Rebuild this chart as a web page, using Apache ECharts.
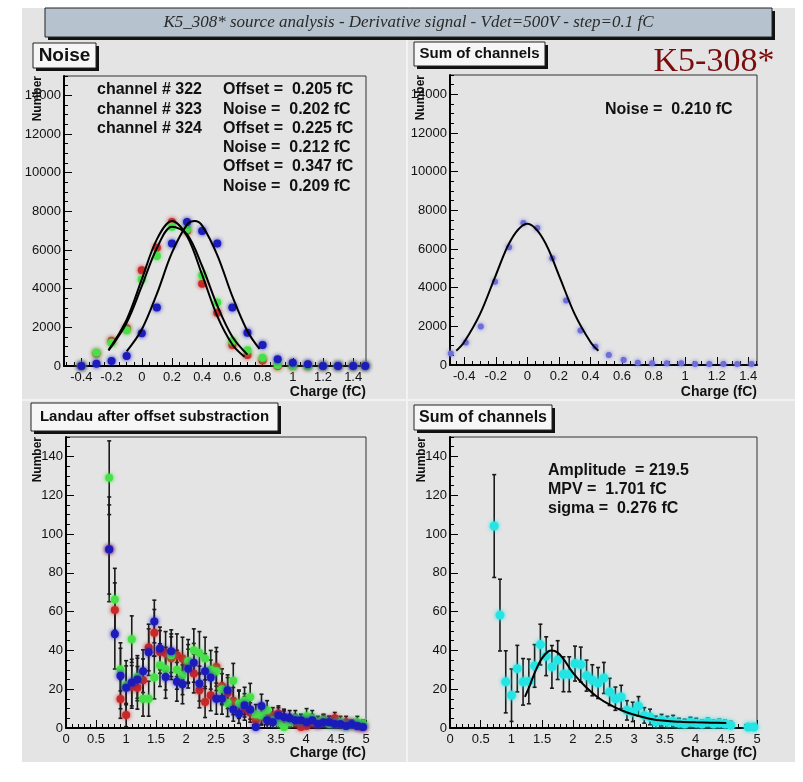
<!DOCTYPE html>
<html>
<head>
<meta charset="utf-8">
<title>K5_308* source analysis</title>
<script src="https://cdn.jsdelivr.net/npm/echarts@6/dist/echarts.min.js"></script>
<style>
  html, body { margin: 0; padding: 0; background: #ffffff; }
  #chart { width: 803px; height: 782px; }
</style>
</head>
<body>
<div id="chart"></div>
<script>
// ---------- Noise panel (three channels) ----------
const noiseX = [-0.4, -0.3, -0.2, -0.1, 0, 0.1, 0.2, 0.3, 0.4, 0.5, 0.6, 0.7, 0.8, 0.9, 1.0, 1.1, 1.2, 1.3, 1.4, 1.48];
const noiseCh322 = [0, 650, 1300, 1950, 4950, 6120, 7450, 7000, 4260, 2760, 1090, 570, 290, 0, 0, 0, 0, 0, 0, 0];
const noiseCh323 = [0, 690, 1200, 1845, 4480, 5690, 7200, 7070, 4690, 3280, 1290, 810, 430, 50, 0, 0, 0, 0, 0, 0];
const noiseCh324 = [0, 120, 260, 520, 1690, 3020, 6330, 7450, 6980, 6330, 3020, 1720, 1090, 345, 170, 86, 0, 0, 0, 0];

// Gaussian fit curves of the three channels, sampled along x
const fitCh322 = [[-0.22, 820], [-0.1, 2400], [0, 4480], [0.1, 6550], [0.2, 7500], [0.3, 6710], [0.4, 4710], [0.5, 2580], [0.6, 1110], [0.68, 474]];
const fitCh323 = [[-0.22, 800], [-0.1, 2240], [0, 4130], [0.1, 6090], [0.2, 7200], [0.3, 6810], [0.4, 5160], [0.5, 3130], [0.6, 1515], [0.7, 590]];
const fitCh324 = [[-0.1, 760], [0, 1890], [0.1, 3730], [0.2, 5860], [0.3, 7310], [0.35, 7500], [0.4, 7260], [0.5, 5740], [0.6, 3600], [0.7, 1800], [0.78, 880]];

// ---------- Noise, sum of channels ----------
const sumNoiseX = [-0.485, -0.39, -0.295, -0.205, -0.116, -0.025, 0.063, 0.158, 0.246, 0.337, 0.431, 0.516, 0.61, 0.70, 0.79, 0.884, 0.975, 1.063, 1.153, 1.242, 1.33, 1.42];
const sumNoise = [600, 1160, 1990, 4310, 6090, 7340, 7080, 5520, 3330, 1780, 950, 520, 260, 120, 90, 86, 86, 52, 50, 50, 50, 50];
const sumNoiseFit = [[-0.45, 735], [-0.4, 1190], [-0.3, 2630], [-0.2, 4640], [-0.1, 6520], [0, 7300], [0.1, 6520], [0.2, 4640], [0.3, 2630], [0.4, 1190], [0.45, 735]];

// ---------- Landau spectra (charge bins, fC) ----------
const landauX = [0.72, 0.814, 0.908, 1.002, 1.096, 1.19, 1.284, 1.378, 1.472, 1.566, 1.66, 1.754, 1.848, 1.942, 2.036, 2.13, 2.224, 2.318, 2.412, 2.506, 2.6, 2.694, 2.788, 2.882, 2.976, 3.07, 3.164, 3.258, 3.352, 3.446, 3.54, 3.634, 3.728, 3.822, 3.916, 4.01, 4.104, 4.198, 4.292, 4.386, 4.48, 4.574, 4.668, 4.762, 4.856, 4.95];
const landau322 = [92, 60.8, 15, 6.7, 21.2, 20.7, 24.6, 41.5, 49.1, 39.2, 38.7, 36, 37.5, 35.8, 33, 28.1, 19.4, 13.4, 16.9, 31.5, 21.5, 18, 13.9, 12, 10, 8, 4, 6, 5.7, 6.5, 7.4, 4.8, 4, 3, 0.5, 1, 3, 2, 4, 3, 5, 2, 3, 2, 1, 0.5];
const landau322Err = [23, 14, 10, 6, 11, 11, 11, 12, 12, 11, 11, 11, 11, 11, 10, 10, 9, 8, 8, 10, 9, 8, 7, 7, 6, 5, 4, 4, 4, 4, 4, 4, 3, 3, 1, 2, 3, 2, 3, 3, 3, 2, 3, 2, 2, 1];
const landau323 = [129, 66.3, 30.1, 22, 45.8, 26.3, 15.1, 15.1, 26, 32.4, 30.6, 37.5, 30, 27.2, 34.6, 40.1, 38.7, 35.8, 30, 29.3, 20, 12.9, 24.3, 12.6, 14, 16, 7.1, 6.5, 9.1, 4, 3, 0.5, 3, 5, 4, 6, 5, 3, 4, 2, 2, 3, 1, 2, 3, 2];
const landau323Err = [19, 16, 11, 10, 12, 11, 9, 9, 11, 11, 11, 11, 10, 10, 11, 11, 11, 11, 10, 10, 8, 7, 9, 7, 7, 7, 5, 5, 5, 4, 3, 1, 3, 4, 3, 4, 4, 3, 3, 2, 2, 3, 2, 2, 3, 2];
const landau324 = [92.1, 48.4, 26.9, 20.7, 23.4, 25, 29.3, 39.1, 54.9, 41, 26.3, 39.6, 23.8, 22.5, 30.6, 33.6, 22.9, 29.3, 26, 15.1, 15.1, 19.4, 9.5, 7.4, 11.7, 9.5, 0.5, 11.4, 4, 3, 6.5, 5.7, 5, 4, 4, 3, 4, 2, 3, 3, 2, 2, 1, 2, 1, 0.5];
const landau324Err = [27, 18, 17, 14, 12, 11, 11, 12, 11, 11, 11, 11, 10, 10, 10, 10, 9, 9, 9, 8, 8, 8, 6, 5, 6, 5, 1, 6, 4, 3, 4, 4, 4, 3, 3, 3, 3, 2, 3, 3, 2, 2, 2, 2, 2, 1];

const landauSum = [104.1, 58.2, 23.8, 16.9, 30.6, 23.8, 24, 32, 43, 37, 31.5, 35, 27.7, 27.7, 33.2, 32.7, 27, 24.6, 23.2, 25.8, 18.6, 15.1, 16, 9.1, 8.3, 11.2, 6.5, 5.7, 3.1, 4, 3, 3.5, 2.5, 2, 3, 2.5, 2, 3, 2, 2.5, 2, 1.4, null, null, 0.5, 0.5];
const landauSumErr = [26.5, 18.5, 16, 13.5, 12, 12, 11.5, 11, 10.5, 10, 11, 10, 9, 9, 9, 9, 8, 8, 8, 8, 7, 6, 6, 5, 5, 5, 4, 4, 3, 3, 3, 3, 2.5, 2.5, 2.5, 2.5, 2, 2, 2, 2, 2, 2, 0, 0, 0.5, 0.5];
// Landau fit (Amplitude 219.5, MPV 1.701 fC, sigma 0.276 fC), sampled along x
const landauSumFit = [[1.22, 16], [1.3, 22], [1.4, 30], [1.5, 36], [1.6, 39.5], [1.66, 40], [1.75, 39], [1.85, 35.5], [2.0, 28.5], [2.2, 21.5], [2.4, 16], [2.6, 12], [2.8, 9], [3.0, 6.8], [3.25, 4.8], [3.5, 3.7], [3.75, 3.2], [4.0, 2.9], [4.25, 2.7], [4.5, 2.6]];

// ---------- Axis tick labels ----------
const noiseXTicks = [-0.4, -0.2, 0, 0.2, 0.4, 0.6, 0.8, 1, 1.2, 1.4];
const noiseYTicks = [0, 2000, 4000, 6000, 8000, 10000, 12000, 14000];
const landauXTicks = [0, 0.5, 1, 1.5, 2, 2.5, 3, 3.5, 4, 4.5, 5];
const landauYTicks = [0, 20, 40, 60, 80, 100, 120, 140];

const colRed = '#c82828', colGreen = '#48e048', colBlue = '#1c1cbc', colSum = '#6e6ed8', colCyan = '#24e4e4';
const FONT = 'Liberation Sans, Arial, Helvetica, sans-serif';
const SERIF = 'Liberation Serif, Times New Roman, serif';

function minorTicks(from, to, step) {
  const out = [];
  for (let v = from; v <= to + 1e-9; v += step) out.push(+v.toFixed(4));
  return out;
}

const grids = [
  { left: 64, top: 76, width: 302, height: 290 },
  { left: 450, top: 75, width: 307, height: 290 },
  { left: 66, top: 437, width: 300, height: 291 },
  { left: 450, top: 437, width: 307, height: 291 }
].map(g => Object.assign({ show: true, borderColor: '#333', borderWidth: 1, backgroundColor: 'transparent' }, g));

function majorX(gi, min, max, ticks) {
  return {
    type: 'value', gridIndex: gi, min, max, position: 'bottom',
    splitLine: { show: false },
    axisLine: { show: true, onZero: false, lineStyle: { color: '#000', width: 2 } },
    axisTick: { show: true, inside: true, length: 8, customValues: ticks, lineStyle: { color: '#000', width: 1 } },
    axisLabel: { show: true, customValues: ticks, margin: 5, color: '#111', fontFamily: FONT, fontSize: 13, formatter: v => String(v) }
  };
}
function minorX(gi, min, max, ticks) {
  return {
    type: 'value', gridIndex: gi, min, max, position: 'bottom',
    splitLine: { show: false },
    axisLine: { show: false, onZero: false },
    axisTick: { show: true, inside: true, length: 4, customValues: ticks, lineStyle: { color: '#000', width: 1 } },
    axisLabel: { show: false }
  };
}
function majorY(gi, min, max, ticks) {
  return {
    type: 'value', gridIndex: gi, min, max, position: 'left',
    splitLine: { show: false },
    axisLine: { show: true, onZero: false, lineStyle: { color: '#000', width: 2 } },
    axisTick: { show: true, inside: true, length: 8, customValues: ticks, lineStyle: { color: '#000', width: 1 } },
    axisLabel: { show: true, customValues: ticks, margin: 3, color: '#111', fontFamily: FONT, fontSize: 13, formatter: v => String(v) }
  };
}
function minorY(gi, min, max, ticks) {
  return {
    type: 'value', gridIndex: gi, min, max, position: 'left',
    splitLine: { show: false },
    axisLine: { show: false, onZero: false },
    axisTick: { show: true, inside: true, length: 4, customValues: ticks, lineStyle: { color: '#000', width: 1 } },
    axisLabel: { show: false }
  };
}

const xAxes = [
  majorX(0, -0.515, 1.485, noiseXTicks), minorX(0, -0.515, 1.485, minorTicks(-0.5, 1.45, 0.05)),
  majorX(1, -0.49, 1.455, noiseXTicks), minorX(1, -0.49, 1.455, minorTicks(-0.45, 1.45, 0.05)),
  majorX(2, 0, 5, landauXTicks), minorX(2, 0, 5, minorTicks(0, 5, 0.1)),
  majorX(3, 0, 5, landauXTicks), minorX(3, 0, 5, minorTicks(0, 5, 0.1))
];
const yAxes = [
  majorY(0, 0, 15000, noiseYTicks), minorY(0, 0, 15000, minorTicks(0, 15000, 500)),
  majorY(1, 0, 15000, noiseYTicks), minorY(1, 0, 15000, minorTicks(0, 15000, 500)),
  majorY(2, 0, 150, landauYTicks), minorY(2, 0, 150, minorTicks(0, 150, 5)),
  majorY(3, 0, 150, landauYTicks), minorY(3, 0, 150, minorTicks(0, 150, 5))
];

function pts(xs, ys) {
  return xs.map((x, i) => [x, ys[i]]).filter(p => p[1] !== null && p[1] !== undefined);
}
function ptsErr(xs, ys, es) {
  return xs.map((x, i) => [x, ys[i], es[i]]).filter(p => p[1] !== null && p[1] !== undefined);
}

function markers(gi, data, color, size) {
  return {
    type: 'scatter', xAxisIndex: 2 * gi, yAxisIndex: 2 * gi, data,
    symbol: 'circle', symbolSize: size,
    itemStyle: { color, shadowBlur: 4, shadowColor: color, opacity: 1 },
    emphasis: { disabled: true }, silent: true
  };
}
function errorBars(gi, data) {
  return {
    type: 'custom', xAxisIndex: 2 * gi, yAxisIndex: 2 * gi, data, clip: true,
    encode: { x: 0, y: 1 }, silent: true,
    renderItem(params, api) {
      const x = api.value(0), y = api.value(1), e = api.value(2);
      if (!(e > 0)) return null;
      const top = api.coord([x, y + e]);
      const bot = api.coord([x, Math.max(0, y - e)]);
      const style = { stroke: '#1a1a1a', lineWidth: 1.6 };
      const cap = 2;
      return {
        type: 'group', children: [
          { type: 'line', shape: { x1: top[0], y1: top[1], x2: bot[0], y2: bot[1] }, style },
          { type: 'line', shape: { x1: top[0] - cap, y1: top[1], x2: top[0] + cap, y2: top[1] }, style },
          { type: 'line', shape: { x1: bot[0] - cap, y1: bot[1], x2: bot[0] + cap, y2: bot[1] }, style }
        ]
      };
    }
  };
}
function fitLine(gi, data) {
  return {
    type: 'line', xAxisIndex: 2 * gi, yAxisIndex: 2 * gi, data,
    smooth: 0.35, showSymbol: false, symbol: 'none', silent: true,
    lineStyle: { color: '#000', width: 2 }
  };
}

const series = [
  // Noise, three channels
  markers(0, pts(noiseX, noiseCh322), colRed, 8),
  markers(0, pts(noiseX, noiseCh323), colGreen, 8),
  markers(0, pts(noiseX, noiseCh324), colBlue, 8),
  fitLine(0, fitCh322), fitLine(0, fitCh323), fitLine(0, fitCh324),
  // Noise, sum of channels
  markers(1, pts(sumNoiseX, sumNoise), colSum, 6),
  fitLine(1, sumNoiseFit),
  // Landau spectra per channel
  errorBars(2, ptsErr(landauX, landau322, landau322Err)),
  markers(2, pts(landauX, landau322), colRed, 8),
  errorBars(2, ptsErr(landauX, landau323, landau323Err)),
  markers(2, pts(landauX, landau323), colGreen, 8),
  errorBars(2, ptsErr(landauX, landau324, landau324Err)),
  markers(2, pts(landauX, landau324), colBlue, 8),
  // Landau, sum of channels with fit
  markers(3, pts(landauX, landauSum), colCyan, 9),
  errorBars(3, ptsErr(landauX, landauSum, landauSumErr)),
  fitLine(3, landauSumFit)
];

// ROOT-style text boxes with a dark drop shadow
function shadowBox(x, y, w, h, fill, text, font, textStyleExtra) {
  return [
    { type: 'rect', shape: { x: x + 3, y: y + 3, width: w, height: h }, style: { fill: '#111' }, z: 10, silent: true },
    { type: 'rect', shape: { x, y, width: w, height: h }, style: { fill, stroke: '#222', lineWidth: 1 }, z: 11, silent: true },
    { type: 'text', x: x + w / 2, y: y + h / 2, z: 12, silent: true,
      style: Object.assign({ text, font, fill: '#111', align: 'center', verticalAlign: 'middle' }, textStyleExtra || {}) }
  ];
}
function label(x, y, text, size, align) {
  return { type: 'text', x, y, z: 12, silent: true,
    style: { text, font: 'bold ' + size + 'px ' + FONT, fill: '#111', align: align || 'left', verticalAlign: 'middle' } };
}
function yTitle(x, yTop) {
  return { type: 'text', x, y: yTop, rotation: Math.PI / 2, z: 12, silent: true,
    style: { text: 'Number', font: 'bold 12px ' + FONT, fill: '#111', align: 'right', verticalAlign: 'middle' } };
}
function xTitle(xRight, y) {
  return { type: 'text', x: xRight, y, z: 12, silent: true,
    style: { text: 'Charge (fC)', font: 'bold 14px ' + FONT, fill: '#111', align: 'right', verticalAlign: 'middle' } };
}

const graphics = [
  // canvas and pads
  { type: 'rect', shape: { x: 22, y: 8, width: 773, height: 754 }, style: { fill: '#e4e4e4' }, z: -10, silent: true },
  { type: 'line', shape: { x1: 407, y1: 40, x2: 407, y2: 762 }, style: { stroke: '#f2f2f2', lineWidth: 2 }, z: -9, silent: true },
  { type: 'line', shape: { x1: 22, y1: 400, x2: 795, y2: 400 }, style: { stroke: '#f2f2f2', lineWidth: 2 }, z: -9, silent: true },
  ...shadowBox(45, 8, 727, 29, '#b6c3cf', 'K5_308* source analysis - Derivative signal - Vdet=500V - step=0.1 fC',
    'italic 17px ' + SERIF, { fill: '#2a2a2a' }),
  ...shadowBox(33, 43, 63, 25, '#f6f6f6', 'Noise', 'bold 19px ' + FONT),
  ...shadowBox(414, 42, 131, 24, '#f6f6f6', 'Sum of channels', 'bold 15px ' + FONT),
  ...shadowBox(31, 403, 247, 28, '#f6f6f6', 'Landau after offset substraction', 'bold 15px ' + FONT),
  ...shadowBox(414, 405, 138, 25, '#f6f6f6', 'Sum of channels', 'bold 16px ' + FONT),
  { type: 'text', x: 714, y: 62, z: 12, silent: true,
    style: { text: 'K5-308*', font: '34px ' + SERIF, fill: '#7c0c0c', align: 'center', verticalAlign: 'middle' } },
  // fit results
  label(97, 90, 'channel # 322', 16), label(97, 110, 'channel # 323', 16), label(97, 129, 'channel # 324', 16),
  label(223, 90, 'Offset =  0.205 fC', 16), label(223, 110, 'Noise =  0.202 fC', 16),
  label(223, 129, 'Offset =  0.225 fC', 16), label(223, 148, 'Noise =  0.212 fC', 16),
  label(223, 167, 'Offset =  0.347 fC', 16), label(223, 187, 'Noise =  0.209 fC', 16),
  label(605, 110, 'Noise =  0.210 fC', 16),
  label(548, 471, 'Amplitude  = 219.5', 16), label(548, 490, 'MPV =  1.701 fC', 16), label(548, 509, 'sigma =  0.276 fC', 16),
  // axis titles
  yTitle(38, 76), yTitle(421, 75), yTitle(38, 437), yTitle(422, 437),
  xTitle(366, 392), xTitle(757, 392), xTitle(366, 753), xTitle(757, 753)
];

const chart = echarts.init(document.getElementById('chart'), null, { renderer: 'canvas' });
chart.setOption({
  animation: false,
  backgroundColor: '#ffffff',
  grid: grids,
  xAxis: xAxes,
  yAxis: yAxes,
  series,
  graphic: graphics
});
</script>
</body>
</html>
